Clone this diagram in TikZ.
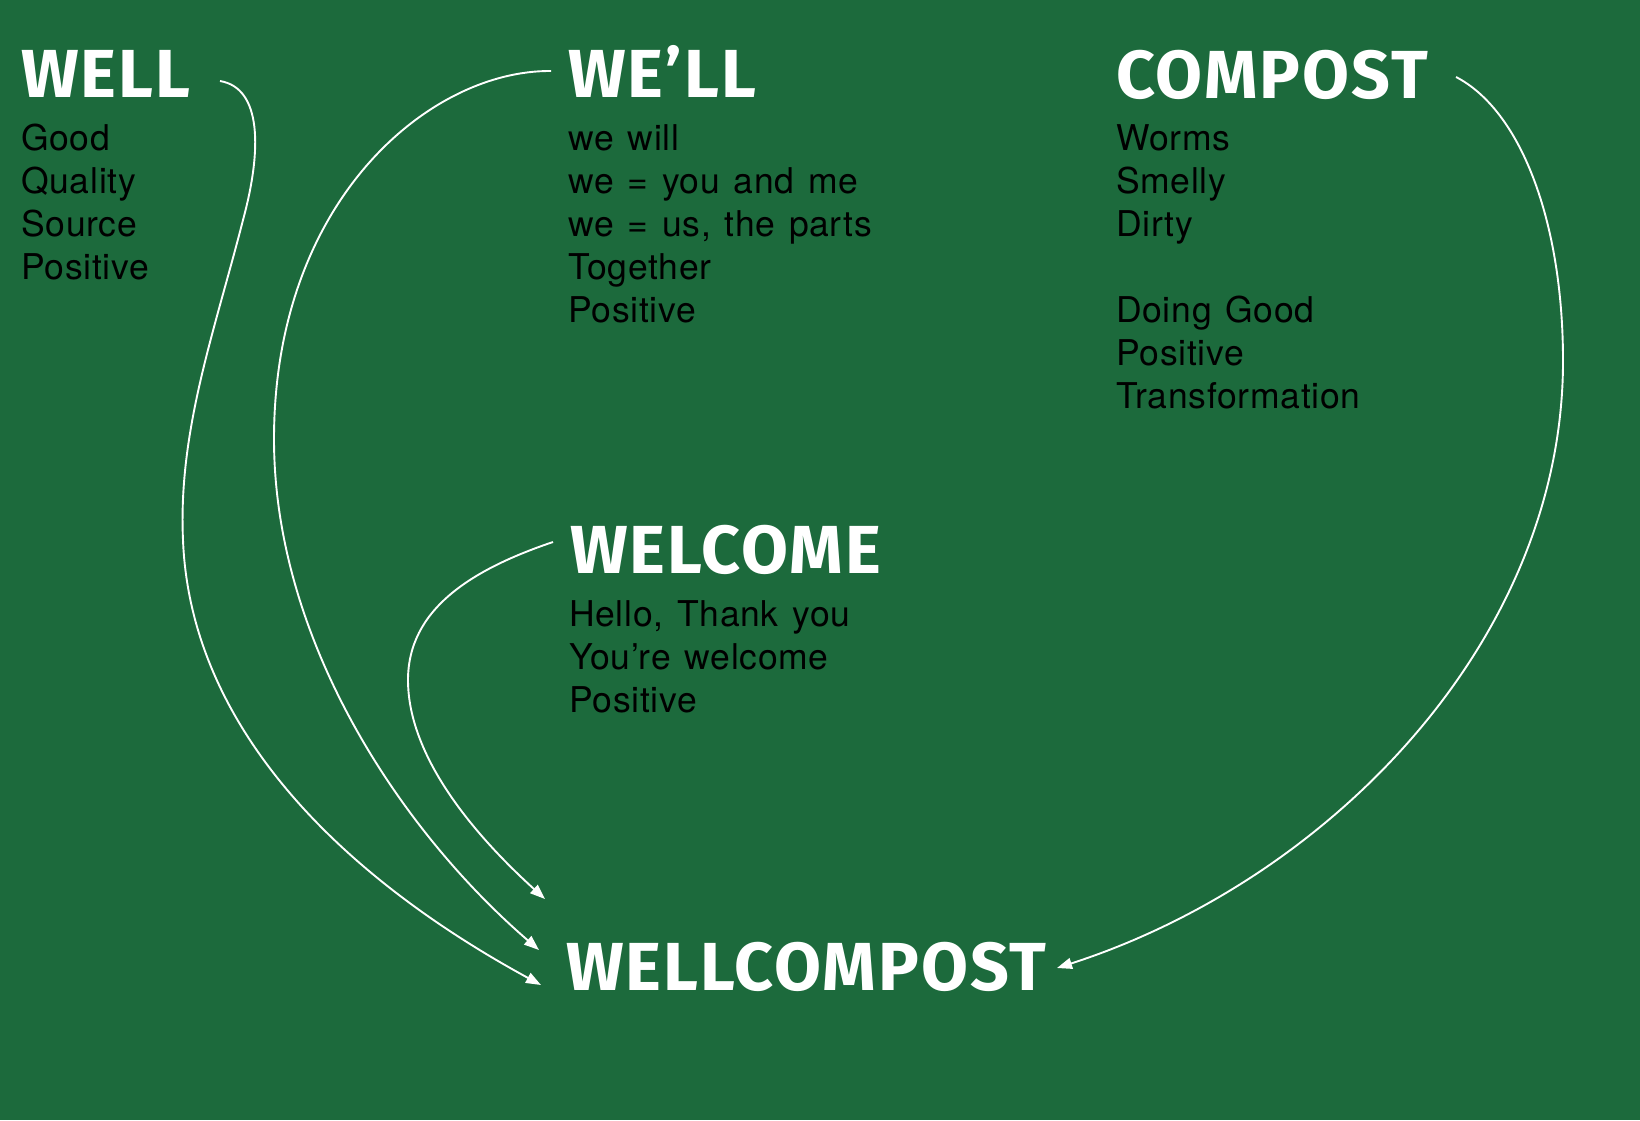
\documentclass[tikz,border=0pt]{standalone}
\usepackage{fontspec}
\usetikzlibrary{arrows.meta}
\setmainfont[LetterSpace=2,WordSpace=1.3]{TeX Gyre Heros}
\newfontfamily\headfont[LetterSpace=3]{Fira Sans}
\definecolor{bggreen}{HTML}{1C6A3C}
\tikzset{
  head/.style={anchor=base west, inner sep=0pt, text=white, font=\headfont\bfseries\fontsize{68}{68}\selectfont},
  body/.style={anchor=base west, inner sep=0pt, text=black, align=left, font=\fontsize{35.5}{43}\selectfont},
  conn/.style={draw=white, line width=1.9pt, -{Triangle[length=15pt,width=11pt]}}
}
\begin{document}
\begin{tikzpicture}[x=1pt,y=-1pt]
\fill[bggreen] (0,0) rectangle (1640,1120);
\useasboundingbox (0,0) rectangle (1640,1120);

\node[head] (well) at (21,97) {WELL};
\node[body] (wellb) at (21,279) {Good\\Quality\\Source\\Positive};

\node[head] (weill) at (568,97) {WE’LL};
\node[body] (weillb) at (568,322) {we will\\we = you and me\\we = us, the parts\\Together\\Positive};

\node[head] (compost) at (1116,98) {COMPOST};
\node[body] (compostb) at (1116,408) {Worms\\Smelly\\Dirty\\[43pt]Doing Good\\Positive\\Transformation};

\node[head] (welcome) at (570,573) {WELCOME};
\node[body] (welcomeb) at (569,712) {Hello, Thank you\\You’re welcome\\Positive};

\node[head] (wc) at (566,990) {WELLCOMPOST};

\coordinate (s1) at (220,81);
\coordinate (e1) at (541,985);
\coordinate (s2) at (551,71);
\coordinate (e2) at (539,950);
\coordinate (s3) at (553,542);
\coordinate (e3) at (545,899);
\coordinate (s4) at (1456,77);
\coordinate (e4) at (1057,968);

\draw[conn] (s1) .. controls (262,88) and (262,150) .. (243,220)
  .. controls (215,330) and (178,430) .. (183,540)
  .. controls (190,720) and (330,870) .. (e1);
\draw[conn] (s2) .. controls (430,70) and (274,200) .. (274,439)
  .. controls (274,640) and (400,830) .. (e2);
\draw[conn] (s3) .. controls (470,570) and (408,610) .. (408,680)
  .. controls (408,760) and (480,840) .. (e3);
\draw[conn] (s4) .. controls (1520,110) and (1563,220) .. (1563,361)
  .. controls (1563,640) and (1330,880) .. (e4);
\end{tikzpicture}
\end{document}
